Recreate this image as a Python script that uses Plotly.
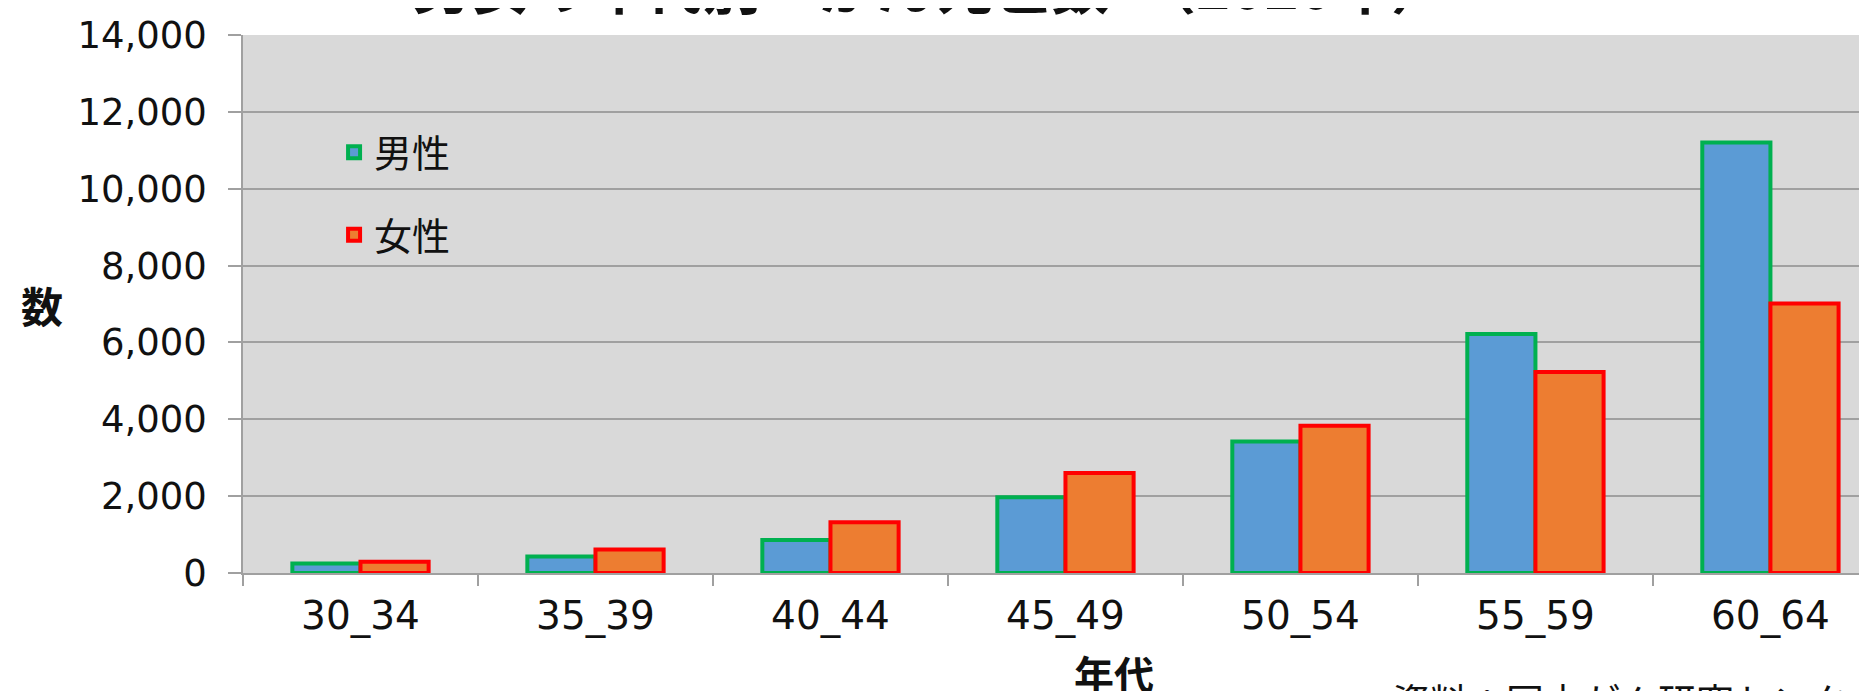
import plotly.graph_objects as go

# ---- data ----
categories = ["30_34", "35_39", "40_44", "45_49", "50_54", "55_59", "60_64"]
male = [250, 430, 860, 1970, 3420, 6220, 11200]
female = [290, 610, 1320, 2600, 3830, 5230, 7010]
series_names = ["男性", "女性"]
title_text = "男女の年代別　がん死亡数　（2020年）"
y_title = "数"
x_title = "年代"
source_text = "資料：国立がん研究センター　がん情報サービス"
y_ticks = [0, 2000, 4000, 6000, 8000, 10000, 12000, 14000]

NUM_FONT = "DejaVu Sans, Noto Sans CJK JP, sans-serif"
CJK_FONT = "Noto Sans CJK JP, sans-serif"

fig = go.Figure()
fig.add_trace(go.Bar(
    x=categories, y=male, name=series_names[0], legendgroup="m",
    marker=dict(color="#5B9BD5", line=dict(color="#00B050", width=4)),
))
fig.add_trace(go.Bar(
    x=categories, y=female, name=series_names[1], legendgroup="f",
    marker=dict(color="#ED7D31", line=dict(color="#FF0000", width=4)),
))

fig.update_layout(
    width=1867, height=691,
    margin=dict(l=235, r=0, t=27, b=126),
    paper_bgcolor="white",
    plot_bgcolor="#D9D9D9",
    barmode="group", bargap=0.42, bargroupgap=0,
    showlegend=True,
    legend=dict(
        x=0.0558, y=0.840, xanchor="left", yanchor="top",
        bgcolor="rgba(0,0,0,0)",
        font=dict(family=CJK_FONT, size=38, color="#111"),
        traceorder="grouped", tracegroupgap=30,
    ),
    font=dict(family=NUM_FONT, color="#111"),
)

fig.update_xaxes(
    type="category",
    range=[-0.5, 6.445],
    tickson="boundaries",
    ticks="outside", ticklen=11, tickcolor="#A0A0A0", tickwidth=1.5,
    showline=True, linecolor="#A0A0A0", linewidth=2,
    showgrid=False,
    tickfont=dict(family=NUM_FONT, size=39, color="#111"),
    ticklabelstandoff=7,
    layer="below traces",
)
fig.update_yaxes(
    range=[0, 14000],
    tickvals=y_ticks,
    tickformat=",",
    ticks="outside", ticklen=13, tickcolor="#A0A0A0", tickwidth=1.5,
    showline=True, linecolor="#A0A0A0", linewidth=1.5,
    showgrid=True, gridcolor="#A0A0A0", gridwidth=1.5,
    zeroline=False,
    tickfont=dict(family=NUM_FONT, size=37, color="#111"),
    ticklabelstandoff=14,
    layer="below traces",
)

fig.add_annotation(
    text="<b>" + title_text + "</b>", xref="paper", yref="paper",
    x=0.4216, y=1.094, xanchor="center", yanchor="middle", showarrow=False,
    font=dict(family=CJK_FONT, size=58, color="#111"),
)
fig.add_annotation(
    text="<b>" + y_title + "</b>", xref="paper", yref="paper",
    x=-0.1232, y=0.5, xanchor="center", yanchor="middle", showarrow=False,
    font=dict(family=CJK_FONT, size=42, color="#111"),
)
fig.add_annotation(
    text="<b>" + x_title + "</b>", xref="paper", yref="paper",
    x=0.534, y=-0.186, xanchor="center", yanchor="middle", showarrow=False,
    font=dict(family=CJK_FONT, size=40, color="#111"),
)
fig.add_annotation(
    text=source_text, xref="paper", yref="paper",
    x=0.703, y=-0.181, xanchor="left", yanchor="top", showarrow=False,
    font=dict(family=CJK_FONT, size=38, color="#111"),
)

fig.write_html("out.html")
